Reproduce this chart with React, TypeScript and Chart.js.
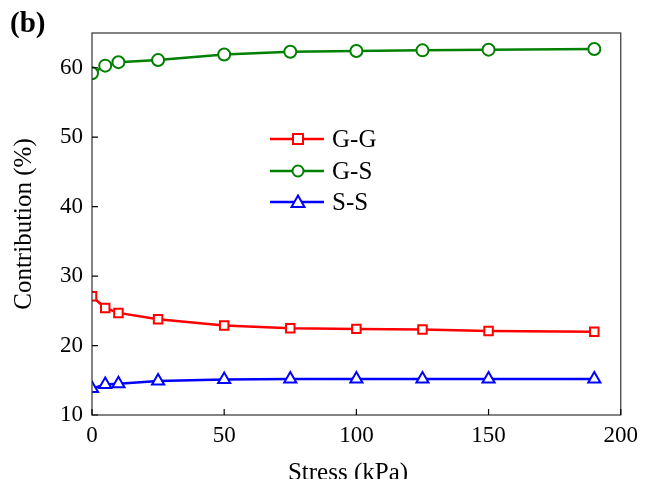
import React, { useEffect, useRef } from "react";
import { Chart, registerables } from "chart.js";

Chart.register(...registerables);

const stress = [0, 5, 10, 25, 50, 75, 100, 125, 150, 190];
const gg = [27.1, 25.4, 24.7, 23.8, 22.9, 22.5, 22.4, 22.3, 22.1, 22.0];
const gs = [59.2, 60.3, 60.8, 61.1, 61.9, 62.3, 62.4, 62.5, 62.6, 62.7];
const ss = [13.8, 14.4, 14.5, 14.9, 15.1, 15.2, 15.2, 15.2, 15.2, 15.2];
const seriesNames = ["G-G", "G-S", "S-S"];
const seriesColors = ["#ff0000", "#008000", "#0000ff"];
const seriesStyles = ["rect", "circle", "triangle"];
const xTicks = [0, 50, 100, 150, 200];
const yTicks = [10, 20, 30, 40, 50, 60];
const xTitle = "Stress (kPa)";
const yTitle = "Contribution (%)";
const panelLabel = "(b)";

const FONT = "'Liberation Serif', 'Times New Roman', serif";

const decorPlugin = {
  id: "decor",
  afterDraw(chart: any) {
    const { ctx, chartArea } = chart;
    const { left, right, top, bottom } = chartArea;
    const xs = chart.scales.x;
    const ys = chart.scales.y;
    ctx.save();
    // frame
    ctx.strokeStyle = "#333";
    ctx.lineWidth = 1.2;
    ctx.strokeRect(left, top, right - left, bottom - top);
    // inward ticks
    ctx.strokeStyle = "#000";
    ctx.beginPath();
    xTicks.forEach((v) => {
      const px = xs.getPixelForValue(v);
      ctx.moveTo(px, bottom);
      ctx.lineTo(px, bottom - 6);
    });
    yTicks.forEach((v) => {
      const py = ys.getPixelForValue(v);
      ctx.moveTo(left, py);
      ctx.lineTo(left + 6, py);
    });
    ctx.stroke();

    // axis titles
    ctx.fillStyle = "#000";
    ctx.font = `25px ${FONT}`;
    ctx.textAlign = "center";
    ctx.textBaseline = "middle";
    ctx.fillText(xTitle, 348, 473);
    ctx.save();
    ctx.translate(24, (top + bottom) / 2);
    ctx.rotate(-Math.PI / 2);
    ctx.fillText(yTitle, 0, 0);
    ctx.restore();

    // panel label
    ctx.font = `bold 29px ${FONT}`;
    ctx.textAlign = "left";
    ctx.fillText(panelLabel, 10, 25);

    // legend
    const lx0 = 270;
    const lx1 = 324;
    const mx = 298;
    const rows = [139, 171, 202];
    seriesNames.forEach((name, i) => {
      const y = rows[i];
      ctx.strokeStyle = seriesColors[i];
      ctx.lineWidth = 2.5;
      ctx.beginPath();
      ctx.moveTo(lx0, y);
      ctx.lineTo(lx1, y);
      ctx.stroke();
      ctx.fillStyle = "#fff";
      ctx.lineWidth = 2;
      const st = seriesStyles[i];
      ctx.beginPath();
      if (st === "rect") {
        ctx.rect(mx - 5, y - 5, 10, 10);
      } else if (st === "circle") {
        ctx.arc(mx, y, 5.5, 0, Math.PI * 2);
      } else {
        ctx.moveTo(mx, y - 6.5);
        ctx.lineTo(mx + 6.5, y + 5);
        ctx.lineTo(mx - 6.5, y + 5);
        ctx.closePath();
      }
      ctx.fill();
      ctx.stroke();
      ctx.fillStyle = "#000";
      ctx.font = `25px ${FONT}`;
      ctx.textAlign = "left";
      ctx.textBaseline = "middle";
      ctx.fillText(name, 332, y + 1);
    });
    ctx.restore();
  },
};

export default function App() {
  const ref = useRef<HTMLCanvasElement>(null);
  useEffect(() => {
    document.body.style.margin = "0";
    const values = [gg, gs, ss];
    const chart = new Chart(ref.current!, {
      type: "line",
      data: {
        datasets: seriesNames.map((name, i) => ({
          label: name,
          data: stress.map((x, j) => ({ x, y: values[i][j] })),
          borderColor: seriesColors[i],
          backgroundColor: "#fff",
          pointBackgroundColor: "#fff",
          pointBorderColor: seriesColors[i],
          pointStyle: seriesStyles[i] as any,
          pointRadius: i === 2 ? 7 : 6,
          pointBorderWidth: 2,
          borderWidth: 2.5,
          tension: 0,
          clip: 0 as any,
        })),
      },
      options: {
        animation: false,
        responsive: false,
        events: [],
        layout: { padding: { top: 33, right: 20, left: 0, bottom: 0 } },
        plugins: { legend: { display: false }, tooltip: { enabled: false } },
        scales: {
          x: {
            type: "linear",
            min: 0,
            max: 200,
            afterBuildTicks: (s: any) => {
              s.ticks = xTicks.map((v) => ({ value: v }));
            },
            afterFit: (s: any) => {
              s.height = 64;
            },
            grid: { display: false, drawTicks: false },
            border: { display: false },
            ticks: {
              color: "#000",
              font: { family: FONT, size: 23 },
              padding: 7,
              maxRotation: 0,
            },
          },
          y: {
            type: "linear",
            min: 10,
            max: 65,
            afterBuildTicks: (s: any) => {
              s.ticks = yTicks.map((v) => ({ value: v }));
            },
            afterFit: (s: any) => {
              s.width = 92;
            },
            grid: { display: false, drawTicks: false },
            border: { display: false },
            ticks: {
              color: "#000",
              font: { family: FONT, size: 23 },
              padding: 9,
            },
          },
        },
      },
      plugins: [decorPlugin],
    });
    return () => chart.destroy();
  }, []);
  return <canvas ref={ref} width={645} height={479} style={{ display: "block" }} />;
}
